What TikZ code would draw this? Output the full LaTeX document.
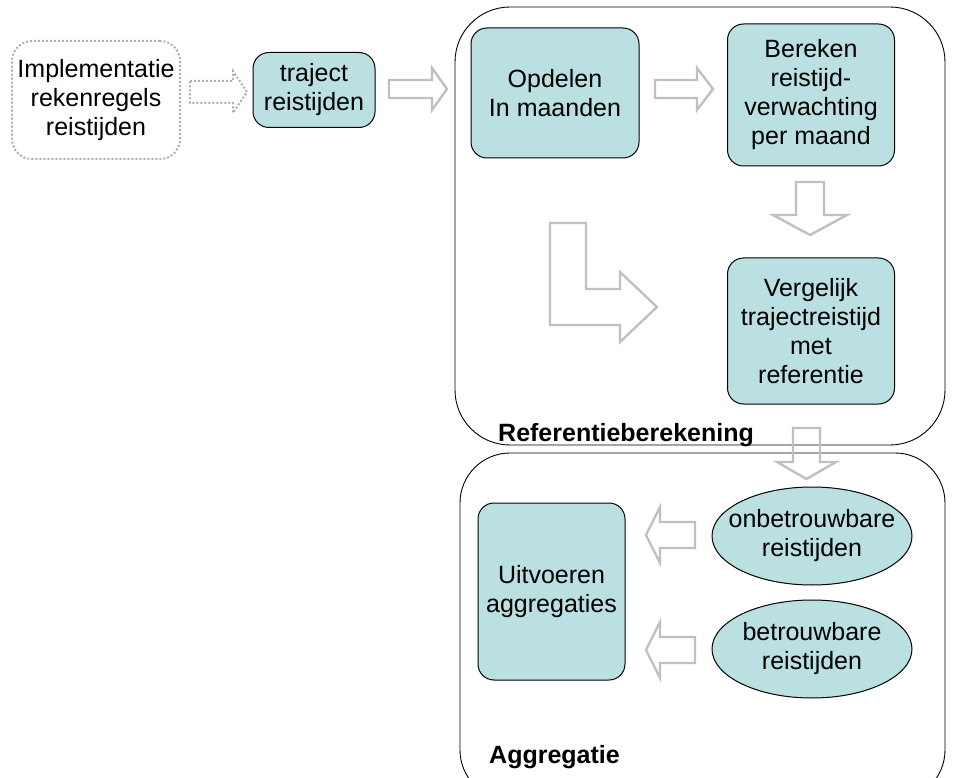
\documentclass[tikz,border=0pt]{standalone}
\usepackage{fontspec}
\setmainfont{Liberation Sans}
\usetikzlibrary{shapes.geometric}
\definecolor{boxfill}{RGB}{186,224,226}
\definecolor{arrgray}{RGB}{192,192,192}
\definecolor{dotgray}{RGB}{175,175,175}
\tikzset{
  txt/.style={font=\fontsize{25}{29}\selectfont, align=center},
  stepbox/.style={txt, draw=black, line width=1pt, fill=boxfill, rounded corners=16pt, inner sep=0pt},
  oval/.style={txt, draw=black, line width=1pt, fill=boxfill, ellipse, inner sep=-15pt},
  container/.style={draw=black, line width=0.9pt},
  barrow/.style={draw=arrgray, line width=2.4pt, line join=miter},
  dotarrow/.style={draw=dotgray, line width=2pt, dotted},
  lbl/.style={font=\fontsize{25}{29}\selectfont\bfseries, anchor=base west, inner sep=0pt}
}
\begin{document}
\begin{tikzpicture}[x=1pt,y=-1pt]
\useasboundingbox (0,0) rectangle (954,778);
\begin{scope}
\clip (0,0) rectangle (954,778);
\draw[container, rounded corners=50pt] (460,453) rectangle (945,800);
\end{scope}
\draw[container, rounded corners=55pt] (455,7) rectangle (945,445);

% source (dotted)
\node[txt, draw=dotgray, line width=2pt, dotted, rounded corners=20pt, minimum width=168pt, minimum height=118pt, inner sep=0pt] (impl) at (96,100) {Implementatie\\rekenregels\\reistijden};

% boxes
\node[stepbox, minimum width=122pt, minimum height=75pt] (traj) at (314,90) {traject\\reistijden};
\node[stepbox, minimum width=168pt, minimum height=130pt] (opd) at (555,93) {Opdelen\\In maanden};
\node[stepbox, minimum width=167pt, minimum height=142pt] (ber) at (811,95) {Bereken\\reistijd-\\verwachting\\per maand};
\node[stepbox, minimum width=167pt, minimum height=146pt] (verg) at (811,331) {Vergelijk\\trajectreistijd\\met\\referentie};
\node[stepbox, minimum width=147pt, minimum height=177pt] (uitv) at (551.5,591.5) {Uitvoeren\\aggregaties};
\node[oval, minimum width=200pt, minimum height=98pt] (onb) at (812,536) {onbetrouwbare\\reistijden};
\node[oval, minimum width=200pt, minimum height=98pt] (betr) at (812,649) {betrouwbare\\reistijden};

% labels
\node[lbl] (lref) at (498,441) {Referentieberekening};
\node[lbl] (lagg) at (489,763) {Aggregatie};

% block arrows
\draw[dotarrow] (190,81) -- (233,81) -- (233,71) -- (247,92) -- (233,113) -- (233,103) -- (190,103) -- cycle;
\draw[barrow] (389,80) -- (432,80) -- (432,68) -- (447,89) -- (432,110) -- (432,98) -- (389,98) -- cycle;
\draw[barrow] (655,80) -- (697,80) -- (697,68) -- (713,89) -- (697,110) -- (697,98) -- (655,98) -- cycle;
\draw[barrow] (796,182) -- (824,182) -- (824,215) -- (847,215) -- (810,235) -- (773,215) -- (796,215) -- cycle;
\draw[barrow] (550,223) -- (586,223) -- (586,289) -- (620,289) -- (620,272) -- (657,307) -- (620,342) -- (620,325) -- (550,325) -- cycle;
\draw[barrow] (793,428) -- (820,428) -- (820,462) -- (836,462) -- (806.5,479) -- (777,462) -- (793,462) -- cycle;
\draw[barrow] (695,522) -- (660,522) -- (660,507) -- (646,535) -- (660,563) -- (660,548) -- (695,548) -- cycle;
\draw[barrow] (695,637) -- (660,637) -- (660,622) -- (646,650) -- (660,678) -- (660,663) -- (695,663) -- cycle;
\end{tikzpicture}
\end{document}
